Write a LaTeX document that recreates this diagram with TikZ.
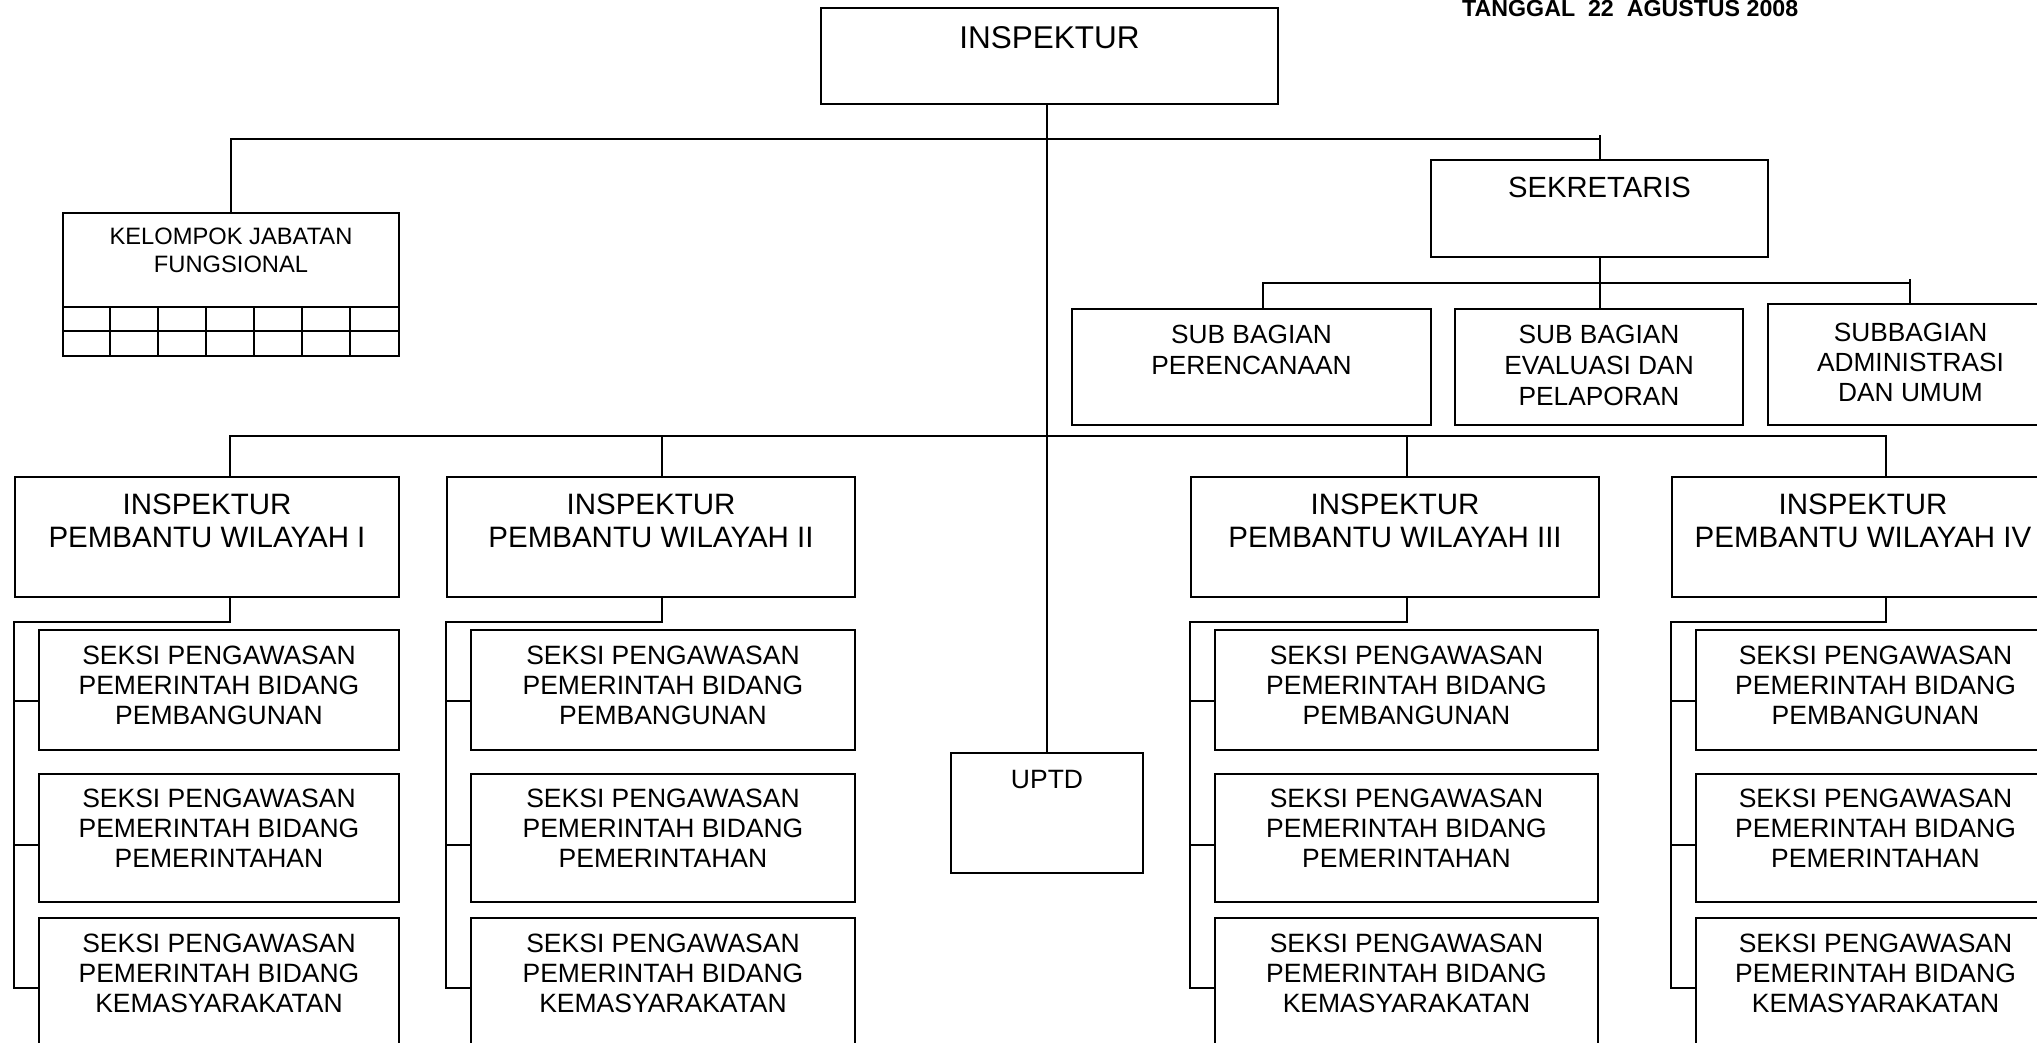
\documentclass[tikz,border=0pt]{standalone}
\usepackage{fontspec}
\setmainfont{Liberation Sans}
\usetikzlibrary{calc}
\newcommand\myfs[2]{\fontsize{#1}{#2}\selectfont}
\tikzset{
  box/.style={draw, line width=2pt, inner sep=0pt, anchor=north west},
  lbl/.style={anchor=north, inner sep=0pt, align=center},
  conn/.style={line width=2pt},
}
\begin{document}
\begin{tikzpicture}[x=1pt,y=-1pt]
\useasboundingbox (0,0) rectangle (2037,1043);
\clip (0,0) rectangle (2037,1043);
\fill[white] (0,0) rectangle (2037,1043);

% header date
\node[anchor=base west, inner sep=0pt, font=\myfs{23.2}{28}\bfseries] (tgl) at (1462,17) {TANGGAL\ \ 22\ \ AGUSTUS 2008};

% top
\node[box, minimum width=457, minimum height=96] (insp) at (820,7) {};
\node[lbl, font=\myfs{31.5}{36}] (inspt) at ([yshift=-19pt]insp.north) {INSPEKTUR};

\node[box, minimum width=336, minimum height=143] (kjf) at (62,212) {};
\node[lbl, font=\myfs{23.7}{27.5}] (kjft) at ([yshift=-16pt]kjf.north) {KELOMPOK JABATAN\\FUNGSIONAL};
\draw[conn] ([yshift=-95pt]kjf.north west) -- ([yshift=-95pt]kjf.north east);
\draw[conn] ([yshift=-119pt]kjf.north west) -- ([yshift=-119pt]kjf.north east);
\foreach \k in {1,...,6} {
  \draw[conn] ([xshift=\k*48pt, yshift=-95pt]kjf.north west) -- ([xshift=\k*48pt]kjf.south west);
}

\node[box, minimum width=337, minimum height=97] (sek) at (1430,159) {};
\node[lbl, font=\myfs{29.2}{33}] (sekt) at ([yshift=-18pt]sek.north) {SEKRETARIS};

\node[box, minimum width=359, minimum height=116] (per) at (1071,308) {};
\node[lbl, font=\myfs{26.3}{31}] (pert) at ([yshift=-17pt]per.north) {SUB BAGIAN\\PERENCANAAN};
\node[box, minimum width=288, minimum height=116] (eval) at (1454,308) {};
\node[lbl, font=\myfs{26.3}{31}] (evalt) at ([yshift=-17pt]eval.north) {SUB BAGIAN\\EVALUASI DAN\\PELAPORAN};
\node[box, minimum width=285, minimum height=121] (adm) at (1767,303) {};
\node[lbl, font=\myfs{26.3}{30}] (admt) at ([yshift=-20pt]adm.north) {SUBBAGIAN\\ADMINISTRASI\\DAN UMUM};

\node[box, minimum width=192, minimum height=120] (uptd) at (950,752) {};
\node[lbl, font=\myfs{26.5}{30}] (uptdt) at ([yshift=-18pt]uptd.north) {UPTD};

% inspektur pembantu columns
\foreach \n/\x/\w/\c/\sw/\tx in {1/14/384/216/360/I, 2/446/408/216/384/II, 3/1190/408/217/383/III, 4/1671/382/215/359/IV} {
  \node[box, minimum width=\w, minimum height=120] (ipw\n) at (\x,476) {};
  \node[lbl, font=\myfs{29.5}{33}] (ipwt\n) at ([yshift=-18pt]ipw\n.north) {INSPEKTUR\\PEMBANTU WILAYAH \tx};
  \node[box, minimum width=\sw, minimum height=120] (sa\n) at (\x+24,629) {};
  \node[lbl, font=\myfs{26.5}{30}] (sat\n) at ([yshift=-17pt]sa\n.north) {SEKSI PENGAWASAN\\PEMERINTAH BIDANG\\PEMBANGUNAN};
  \node[box, minimum width=\sw, minimum height=128] (sb\n) at (\x+24,773) {};
  \node[lbl, font=\myfs{26.5}{30}] (sbt\n) at ([yshift=-16pt]sb\n.north) {SEKSI PENGAWASAN\\PEMERINTAH BIDANG\\PEMERINTAHAN};
  \node[box, minimum width=\sw, minimum height=150] (sc\n) at (\x+24,917) {};
  \node[lbl, font=\myfs{26.5}{30}] (sct\n) at ([yshift=-17pt]sc\n.north) {SEKSI PENGAWASAN\\PEMERINTAH BIDANG\\KEMASYARAKATAN};
  \draw[conn] ([xshift=\c pt]ipw\n.south west) -- ++(0,24) -| ([xshift=-24pt,yshift=-71pt]sc\n.north west) -- ([yshift=-71pt]sc\n.north west);
  \draw[conn] ([xshift=-24pt,yshift=-72pt]sa\n.north west) -- ([yshift=-72pt]sa\n.north west);
  \draw[conn] ([xshift=-24pt,yshift=-72pt]sb\n.north west) -- ([yshift=-72pt]sb\n.north west);
}

% connectors
\draw[conn] (insp.south -| uptd.north) -- (uptd.north);
\draw[conn] (kjf.north) -- ++(0,-73) -| (sek.north);
\draw[conn] (sek.north) -- ++(0,-24);
\draw[conn] (sek.south) -- (sek.south |- eval.north);
\draw[conn] ([xshift=192pt]per.north west) -- ++(0,-25) -| ([xshift=143pt]adm.north west);
\draw[conn] ([xshift=143pt]adm.north west) -- ++(0,-24);
\draw[conn] ([xshift=216pt]ipw1.north west) -- ++(0,-40) -| ([xshift=215pt]ipw4.north west);
\draw[conn] ([xshift=216pt]ipw2.north west) -- ++(0,-40);
\draw[conn] ([xshift=217pt]ipw3.north west) -- ++(0,-40);
\end{tikzpicture}
\end{document}
